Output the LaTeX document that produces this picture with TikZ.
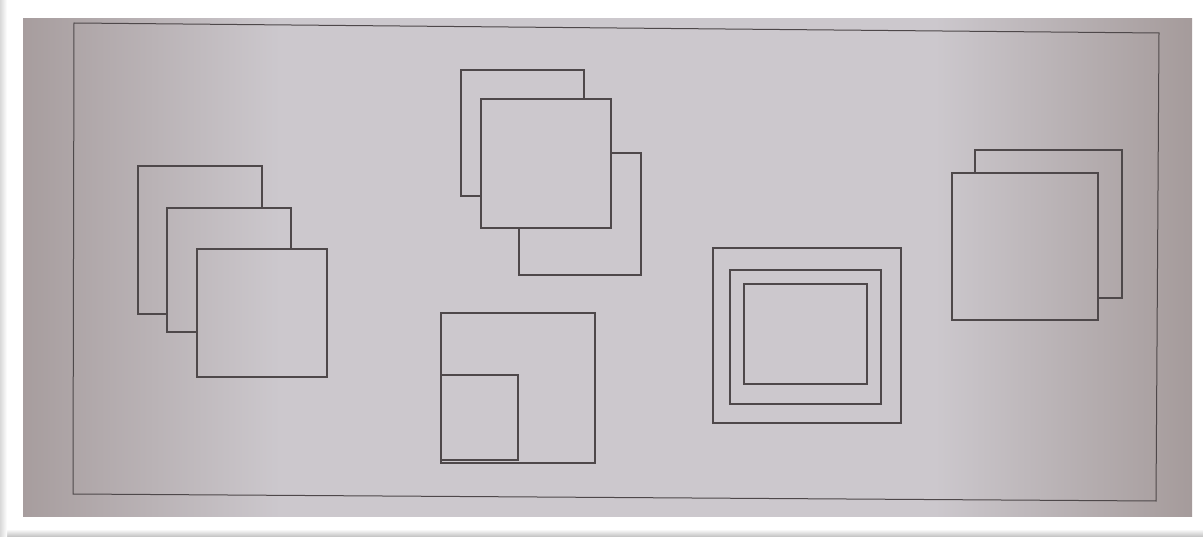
\documentclass[tikz,border=0pt]{standalone}
\usepackage{tikz}
\definecolor{ink}{HTML}{4E484A}
\definecolor{bgL}{HTML}{A79D9E}
\definecolor{bgM}{HTML}{CCC8CD}
\definecolor{bgR}{HTML}{A59B9B}
\pgfdeclarehorizontalshading{screenshade}{100bp}{color(0bp)=(bgL); color(25bp)=(bgL); color(36bp)=(bgM); color(64bp)=(bgM); color(75bp)=(bgR); color(100bp)=(bgR)}
\tikzset{
  shape line/.style={draw=ink, line width=1.1pt, line join=miter},
}
\begin{document}
\begin{tikzpicture}[x=1pt,y=-1pt]
\useasboundingbox (0,0) rectangle (1203,537);
% paper and shadow
\fill[white] (0,0) rectangle (1203,537);
\shade[top color=white, bottom color=black!25] (0,529) rectangle (1203,537);
\shade[left color=black!15, right color=white] (0,0) rectangle (7,537);
% photographed screen
\shade[shading=screenshade] (23,19) rectangle (1192,516);
% frame
\draw[shape line, line width=1pt] (74,23) -- (1159,33) -- (1156,501) -- (73,494) -- cycle;

% left stack of three
\draw[shape line] (167,314) -- (138,314) -- (138,166) -- (262,166) -- (262,208);
\draw[shape line] (197,332) -- (167,332) -- (167,208) -- (291,208) -- (291,249);
\draw[shape line] (197,249) rectangle (327,377);

% middle top group
\draw[shape line] (481,196) -- (461,196) -- (461,70) -- (584,70) -- (584,99);
\draw[shape line] (611,153) -- (641,153) -- (641,275) -- (519,275) -- (519,228);
\draw[shape line] (481,99) rectangle (611,228);

% middle bottom: square with corner square
\draw[shape line] (441,313) rectangle (595,463);
\draw[shape line] (441,375) rectangle (518,460);

% concentric rectangles
\draw[shape line] (713,248) rectangle (901,423);
\draw[shape line] (730,270) rectangle (881,404);
\draw[shape line] (744,284) rectangle (867,384);

% right pair
\draw[shape line] (975,173) -- (975,150) -- (1122,150) -- (1122,298) -- (1098,298);
\draw[shape line] (952,173) rectangle (1098,320);
\end{tikzpicture}
\end{document}
